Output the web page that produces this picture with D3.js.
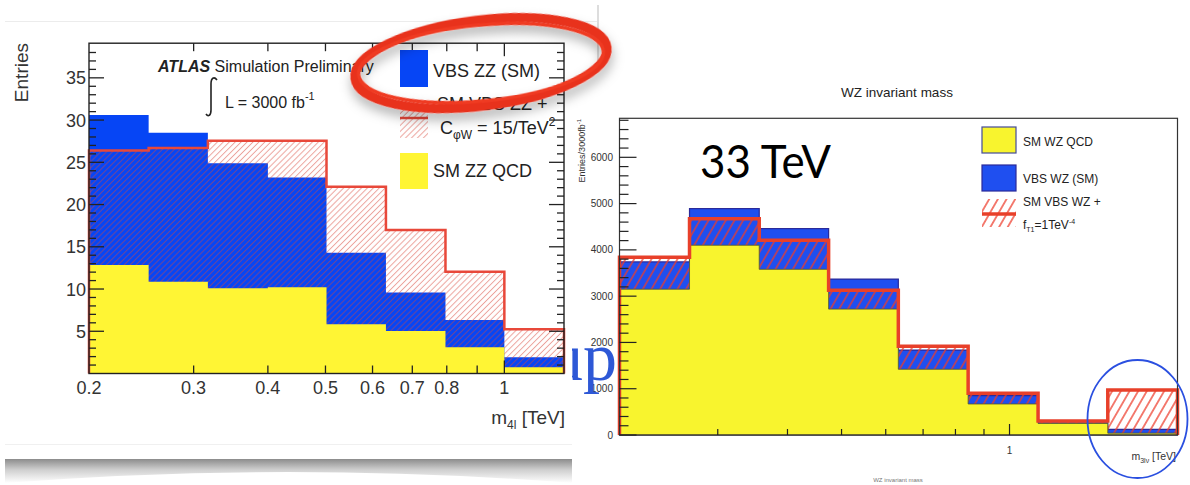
<!DOCTYPE html>
<html><head><meta charset="utf-8">
<script src="https://cdn.jsdelivr.net/npm/d3@7"></script>
<style>body{margin:0;background:#fff}svg{display:block}</style>
</head><body>
<svg id="c" width="1190" height="485"></svg>
<script>
// ---------------- DATA ----------------
// Left: ZZ (m4l, TeV), log-spaced bins
const zzEdges = [0.2, 0.252, 0.317, 0.4, 0.502, 0.632, 0.796, 1.0, 1.26];
const zzQCD   = [12.85, 10.87, 10.09, 10.2, 5.82, 5.03, 3.1, 0.73];
const zzVBS   = [17.75, 17.63, 14.81, 13.0, 8.48, 4.57, 3.23, 1.19];
const zzAQGC  = [26.4, 26.7, 27.55, 27.55, 22.1, 17.0, 12.05, 5.23]; // stacked total with C_phiW
const zzYTicks = [5, 10, 15, 20, 25, 30, 35];
const zzXLabels = [0.2, 0.3, 0.4, 0.5, 0.6, 0.7, 0.8, 1];
const zzXMinor = [0.3, 0.4, 0.5, 0.6, 0.7, 0.8, 0.9];

// Right: WZ (m3lnu, TeV), 33 TeV
const wzEdges = [0.2, 0.267, 0.356, 0.474, 0.632, 0.843, 1.125, 1.5, 2.0];
const wzQCD   = [3150, 4100, 3580, 2720, 1420, 670, 250, 40];
const wzVBS   = [590, 790, 880, 650, 415, 180, 15, 80];
const wzAQGC  = [3840, 4670, 4210, 3130, 1920, 900, 300, 970]; // stacked total with f_T1
const wzYTicks = [0, 1000, 2000, 3000, 4000, 5000, 6000];
const wzXMinor = [0.3, 0.4, 0.5, 0.6, 0.7, 0.8, 0.9];

// ---------------- SETUP ----------------
const svg = d3.select('#c');
const defs = svg.append('defs');
function hatch(id, spacing, angle, color, width, opacity) {
  const p = defs.append('pattern').attr('id', id).attr('patternUnits', 'userSpaceOnUse')
    .attr('width', spacing).attr('height', spacing).attr('patternTransform', `rotate(${angle})`);
  p.append('line').attr('x1', spacing / 2).attr('x2', spacing / 2).attr('y1', -1).attr('y2', spacing + 1)
    .attr('stroke', color).attr('stroke-width', width).attr('stroke-opacity', opacity);
}
hatch('hL', 4.2, 45, '#d8453a', 1, 0.5);
hatch('hR', 7.5, 30, '#ee3b2a', 1.3, 1);
const f = defs.append('filter').attr('id', 'sh').attr('x', '-20%').attr('y', '-40%').attr('width', '140%').attr('height', '190%');
f.append('feDropShadow').attr('dx', 0).attr('dy', 7).attr('stdDeviation', 6).attr('flood-color', '#000').attr('flood-opacity', 0.3);
const g1 = defs.append('linearGradient').attr('id', 'shadowGrad').attr('x1', 0).attr('x2', 0).attr('y1', 0).attr('y2', 1);
g1.append('stop').attr('offset', '0%').attr('stop-color', '#8c8c8c');
g1.append('stop').attr('offset', '45%').attr('stop-color', '#cfcfcf');
g1.append('stop').attr('offset', '100%').attr('stop-color', '#ffffff');
defs.append('clipPath').attr('id', 'upClip').append('rect').attr('x', 572).attr('y', 300).attr('width', 120).attr('height', 120);

function stepPts(edges, vals, x, y) {
  const pts = [[x(edges[0]), y(0)]];
  vals.forEach((v, i) => { pts.push([x(edges[i]), y(v)]); pts.push([x(edges[i + 1]), y(v)]); });
  pts.push([x(edges[edges.length - 1]), y(0)]);
  return pts;
}
const line = d3.line();
const sans = 'Liberation Sans, Arial, Helvetica, sans-serif';

// ---------------- PAGE DECORATIONS ----------------
svg.append('line').attr('x1', 5).attr('x2', 597).attr('y1', 21.5).attr('y2', 21.5).attr('stroke', '#ececec');
svg.append('line').attr('x1', 598).attr('x2', 598).attr('y1', 5).attr('y2', 72).attr('stroke', '#bbb');
svg.append('line').attr('x1', 5).attr('x2', 572).attr('y1', 444.5).attr('y2', 444.5).attr('stroke', '#f0f0f0');
svg.append('path').attr('d', 'M5,459 L572,459 L572,483 Q288,461 5,483 Z').attr('fill', 'url(#shadowGrad)');

// ---------------- RIGHT CHART (WZ) ----------------
const xR = d3.scaleLog().domain([0.2, 2.0]).range([619.5, 1177.5]);
const yR = d3.scaleLinear().domain([0, 6843]).range([435, 118.3]);
const wzBlueTop = wzQCD.map((q, i) => q + wzVBS[i]);
const R = svg.append('g');
R.append('path').attr('d', line(stepPts(wzEdges, wzBlueTop, xR, yR)) + 'Z')
  .attr('fill', '#1f4ff0').attr('stroke', '#2a2a9a').attr('stroke-width', 1.2);
R.append('path').attr('d', line(stepPts(wzEdges, wzAQGC, xR, yR)) + 'Z').attr('fill', 'url(#hR)');
R.append('path').attr('d', line(stepPts(wzEdges, wzQCD, xR, yR)) + 'Z')
  .attr('fill', '#f8f42e').attr('stroke', '#55552a').attr('stroke-width', 0.8);
R.append('path').attr('d', line(stepPts(wzEdges, wzAQGC, xR, yR)))
  .attr('fill', 'none').attr('stroke', '#e8402a').attr('stroke-width', 3.5);
// frame
R.append('rect').attr('x', 619.5).attr('y', 118.3).attr('width', 558).attr('height', 316.7)
  .attr('fill', 'none').attr('stroke', '#333').attr('stroke-width', 1.2);
// y ticks
const wzMinorY = d3.range(0, 6801, 200);
R.selectAll('.ryt').data(wzMinorY).join('line')
  .attr('x1', 619.5).attr('x2', d => 619.5 + (d % 1000 === 0 ? 17 : 9))
  .attr('y1', d => yR(d)).attr('y2', d => yR(d)).attr('stroke', '#222').attr('stroke-width', 1.2);
R.selectAll('.ryl').data(wzYTicks).join('text')
  .attr('x', 613).attr('y', d => yR(d)).attr('dy', '0.35em').attr('text-anchor', 'end')
  .attr('font-family', sans).attr('font-size', 10).attr('fill', '#333').text(d => d);
// x ticks
R.selectAll('.rxt').data(wzXMinor.concat([1])).join('line')
  .attr('x1', d => xR(d)).attr('x2', d => xR(d)).attr('y1', 435).attr('y2', d => 435 - (d === 1 ? 11 : 6))
  .attr('stroke', '#222').attr('stroke-width', 1.2);
R.append('text').attr('x', xR(1)).attr('y', 454).attr('text-anchor', 'middle')
  .attr('font-family', sans).attr('font-size', 10).attr('fill', '#333').text('1');
// axis titles
const rxt = R.append('text').attr('x', 1176).attr('y', 460).attr('text-anchor', 'end')
  .attr('font-family', sans).attr('font-size', 10.5).attr('fill', '#333');
rxt.append('tspan').text('m');
rxt.append('tspan').attr('font-size', 7).attr('dy', 3).text('3lν');
rxt.append('tspan').attr('dy', -3).text(' [TeV]');
const ryt = R.append('text').attr('transform', 'translate(585,119) rotate(-90)').attr('text-anchor', 'end')
  .attr('font-family', sans).attr('font-size', 9).attr('fill', '#333');
ryt.append('tspan').text('Entries/3000fb');
ryt.append('tspan').attr('font-size', 6).attr('dy', -4).text('-1');
R.append('text').attr('x', 897).attr('y', 97).attr('text-anchor', 'middle')
  .attr('font-family', sans).attr('font-size', 13.5).attr('fill', '#222').text('WZ invariant mass');
R.append('text').attr('x', 898).attr('y', 482).attr('text-anchor', 'middle')
  .attr('font-family', sans).attr('font-size', 6).attr('fill', '#777').text('WZ invariant mass');
R.append('text').attr('x', 700).attr('y', 178).attr('font-family', 'Lato, sans-serif').attr('font-size', 47)
  .attr('textLength', 131).attr('lengthAdjust', 'spacingAndGlyphs').attr('fill', '#000').text('33 TeV');
// legend
const rl = R.append('g').attr('font-family', sans).attr('font-size', 12).attr('fill', '#222');
rl.append('rect').attr('x', 982).attr('y', 127).attr('width', 34).attr('height', 26).attr('fill', '#f8f42e').attr('stroke', '#444a99').attr('stroke-width', 1.2);
rl.append('text').attr('x', 1023).attr('y', 146).text('SM WZ QCD');
rl.append('rect').attr('x', 982).attr('y', 165).attr('width', 34).attr('height', 26).attr('fill', '#1f4ff0').attr('stroke', '#2a2a9a').attr('stroke-width', 1.2);
rl.append('text').attr('x', 1023).attr('y', 183).text('VBS WZ (SM)');
rl.append('rect').attr('x', 982).attr('y', 199).attr('width', 34).attr('height', 28).attr('fill', 'url(#hR)');
rl.append('line').attr('x1', 982).attr('x2', 1016).attr('y1', 214).attr('y2', 214).attr('stroke', '#e8402a').attr('stroke-width', 3.5);
rl.append('text').attr('x', 1023).attr('y', 206).text('SM VBS WZ +');
const ft = rl.append('text').attr('x', 1023).attr('y', 229);
ft.append('tspan').text('f');
ft.append('tspan').attr('font-size', 7).attr('dy', 3).text('T1');
ft.append('tspan').attr('dy', -3).text('=1TeV');
ft.append('tspan').attr('font-size', 7).attr('dy', -5).text('-4');
// blue circle
svg.append('ellipse').attr('cx', 1137.5).attr('cy', 419).attr('rx', 50).attr('ry', 59)
  .attr('fill', 'none').attr('stroke', '#2a4fe0').attr('stroke-width', 1.8);

// background "up" remnant
svg.append('text').attr('clip-path', 'url(#upClip)').attr('x', 549).attr('y', 380)
  .attr('font-family', 'Liberation Serif, Times New Roman, serif').attr('font-size', 68)
  .attr('fill', '#2e58d6').text('up');

// ---------------- LEFT CHART (ZZ) ----------------
const xL = d3.scaleLog().domain([0.2, 1.26]).range([89, 564]);
const yL = d3.scaleLinear().domain([0, 39.1]).range([373.5, 43.2]);
const zzBlueTop = zzQCD.map((q, i) => q + zzVBS[i]);
const L = svg.append('g');
L.append('path').attr('d', line(stepPts(zzEdges, zzBlueTop, xL, yL)) + 'Z').attr('fill', '#0645f5');
L.append('path').attr('d', line(stepPts(zzEdges, zzAQGC, xL, yL)) + 'Z').attr('fill', 'url(#hL)');
L.append('path').attr('d', line(stepPts(zzEdges, zzQCD, xL, yL)) + 'Z').attr('fill', '#fff534');
L.append('path').attr('d', line(stepPts(zzEdges, zzAQGC, xL, yL)))
  .attr('fill', 'none').attr('stroke', '#e8483a').attr('stroke-width', 2.5);
L.append('rect').attr('x', 89).attr('y', 43.2).attr('width', 475).attr('height', 330.3)
  .attr('fill', 'none').attr('stroke', '#222').attr('stroke-width', 1.4);
const zzMinorY = d3.range(1, 39, 1);
[[89, 1], [564, -1]].forEach(([x0, s]) => {
  L.selectAll(null).data(zzMinorY).join('line')
    .attr('x1', x0).attr('x2', d => x0 + s * (d % 5 === 0 ? 15 : 7))
    .attr('y1', d => yL(d)).attr('y2', d => yL(d)).attr('stroke', '#222').attr('stroke-width', 1.3);
});
[[373.5, -1], [43.2, 1]].forEach(([y0, s]) => {
  L.selectAll(null).data(zzXMinor.concat([1])).join('line')
    .attr('x1', d => xL(d)).attr('x2', d => xL(d))
    .attr('y1', y0).attr('y2', d => y0 + s * (d === 1 ? 13 : 8)).attr('stroke', '#222').attr('stroke-width', 1.3);
});
L.selectAll('.lyl').data(zzYTicks).join('text')
  .attr('x', 86).attr('y', d => yL(d)).attr('dy', '0.36em').attr('text-anchor', 'end')
  .attr('font-family', sans).attr('font-size', 18).attr('fill', '#333').text(d => d);
L.selectAll('.lxl').data(zzXLabels).join('text')
  .attr('x', d => xL(d)).attr('y', 393.5).attr('text-anchor', 'middle')
  .attr('font-family', sans).attr('font-size', 18).attr('fill', '#333').text(d => d);
L.append('text').attr('transform', 'translate(28,43) rotate(-90)').attr('text-anchor', 'end')
  .attr('font-family', sans).attr('font-size', 19).attr('fill', '#333').text('Entries');
const lxt = L.append('text').attr('x', 565).attr('y', 424).attr('text-anchor', 'end')
  .attr('font-family', sans).attr('font-size', 19).attr('fill', '#333');
lxt.append('tspan').text('m');
lxt.append('tspan').attr('font-size', 12).attr('dy', 5).text('4l');
lxt.append('tspan').attr('dy', -5).text(' [TeV]');
// ATLAS label
const at = L.append('text').attr('x', 158).attr('y', 72).attr('font-family', sans).attr('font-size', 16).attr('fill', '#222');
at.append('tspan').attr('font-weight', 'bold').attr('font-style', 'italic').text('ATLAS');
at.append('tspan').text(' Simulation Preliminary');
L.append('path').attr('d', 'M217,80 C214,76 211,78 211,84 L211,110 C211,116 208,117 206,114')
  .attr('fill', 'none').attr('stroke', '#222').attr('stroke-width', 1.6);
const lum = L.append('text').attr('x', 225).attr('y', 107.5).attr('font-family', sans).attr('font-size', 16).attr('fill', '#222');
lum.append('tspan').text('L = 3000 fb');
lum.append('tspan').attr('font-size', 11).attr('dy', -8).text('-1');
// legend
const ll = L.append('g').attr('font-family', sans).attr('font-size', 18).attr('fill', '#222');
ll.append('rect').attr('x', 400).attr('y', 50).attr('width', 28).attr('height', 37).attr('fill', '#0645f5');
ll.append('text').attr('x', 433).attr('y', 76.5).text('VBS ZZ (SM)');
ll.append('rect').attr('x', 400).attr('y', 100).attr('width', 28).attr('height', 38).attr('fill', 'url(#hL)');
ll.append('line').attr('x1', 400).attr('x2', 428).attr('y1', 118).attr('y2', 118).attr('stroke', '#e8483a').attr('stroke-width', 2.5);
ll.append('text').attr('x', 437).attr('y', 110).text('SM VBS ZZ +');
const cw = ll.append('text').attr('x', 440).attr('y', 133.5);
cw.append('tspan').text('C');
cw.append('tspan').attr('font-size', 12).attr('dy', 5).text('φW');
cw.append('tspan').attr('dy', -5).text(' = 15/TeV');
cw.append('tspan').attr('font-size', 12).attr('dy', -8).text('2');
ll.append('rect').attr('x', 400).attr('y', 153).attr('width', 28).attr('height', 36).attr('fill', '#fff534');
ll.append('text').attr('x', 433).attr('y', 176.5).text('SM ZZ QCD');

// red hand-drawn ellipse
const eg = svg.append('g').attr('transform', 'translate(481,63) rotate(-7)').attr('filter', 'url(#sh)');
eg.append('ellipse').attr('rx', 127).attr('ry', 43).attr('fill', 'none').attr('stroke', '#e8321e').attr('stroke-width', 9);
eg.append('ellipse').attr('rx', 123).attr('ry', 38).attr('transform', 'rotate(1.5)').attr('fill', 'none').attr('stroke', '#ef3a22').attr('stroke-width', 3.5);
</script>
</body></html>
